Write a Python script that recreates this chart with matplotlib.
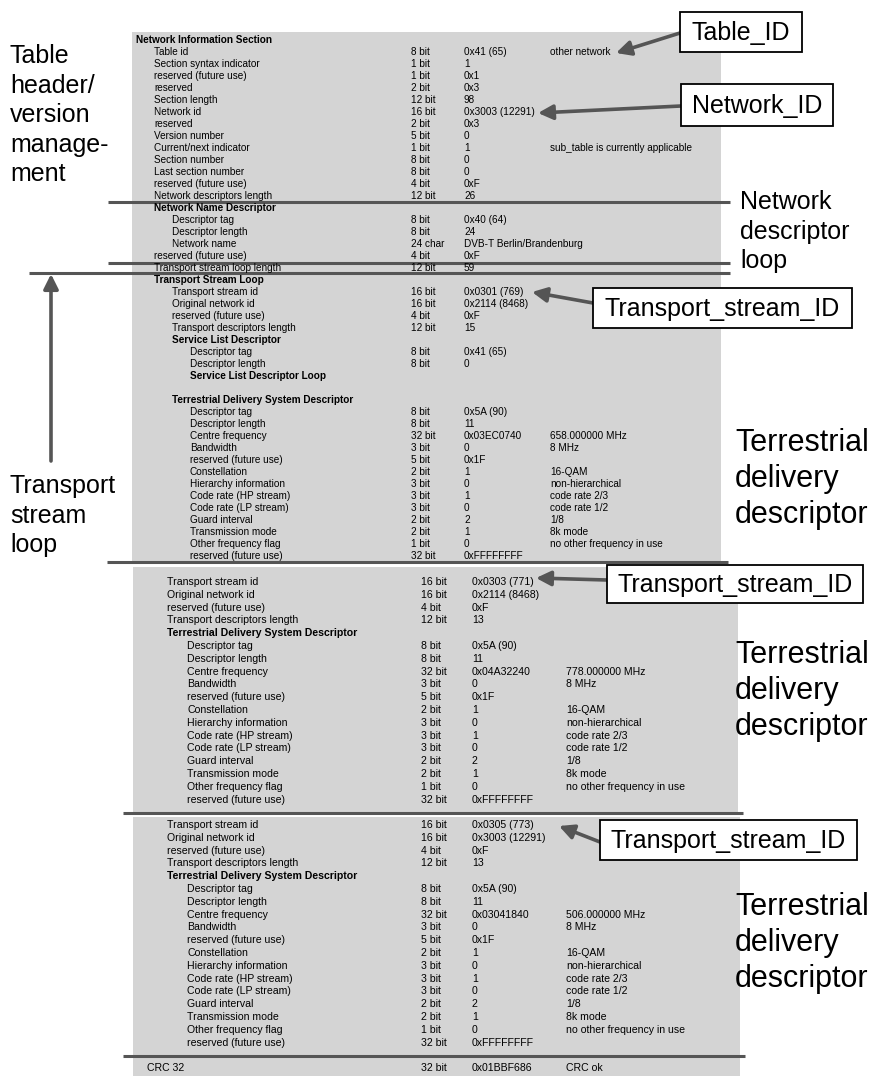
import matplotlib
matplotlib.use("Agg")
import matplotlib.pyplot as plt
from matplotlib import font_manager
from matplotlib.patches import Rectangle

# --- table contents -------------------------------------------------------
nit_labels = [
    "Network Information Section", "Table id", "Section syntax indicator",
    "reserved (future use)", "reserved", "Section length", "Network id",
    "reserved", "Version number", "Current/next indicator", "Section number",
    "Last section number", "reserved (future use)", "Network descriptors length",
    "Network Name Descriptor", "Descriptor tag", "Descriptor length",
    "Network name", "reserved (future use)", "Transport stream loop length",
    "Transport Stream Loop", "Transport stream id", "Original network id",
    "reserved (future use)", "Transport descriptors length",
    "Service List Descriptor", "Descriptor tag", "Descriptor length",
    "Service List Descriptor Loop", "",
    "Terrestrial Delivery System Descriptor", "Descriptor tag",
    "Descriptor length", "Centre frequency", "Bandwidth",
    "reserved (future use)", "Constellation", "Hierarchy information",
    "Code rate (HP stream)", "Code rate (LP stream)", "Guard interval",
    "Transmission mode", "Other frequency flag", "reserved (future use)",
]
nit_bits = [
    "", "8 bit", "1 bit", "1 bit", "2 bit", "12 bit", "16 bit", "2 bit",
    "5 bit", "1 bit", "8 bit", "8 bit", "4 bit", "12 bit",
    "", "8 bit", "8 bit", "24 char", "4 bit", "12 bit",
    "", "16 bit", "16 bit", "4 bit", "12 bit",
    "", "8 bit", "8 bit", "", "",
    "", "8 bit", "8 bit", "32 bit", "3 bit", "5 bit", "2 bit", "3 bit",
    "3 bit", "3 bit", "2 bit", "2 bit", "1 bit", "32 bit",
]
nit_values = [
    "", "0x41 (65)", "1", "0x1", "0x3", "98", "0x3003 (12291)", "0x3",
    "0", "1", "0", "0", "0xF", "26",
    "", "0x40 (64)", "24", "DVB-T Berlin/Brandenburg", "0xF", "59",
    "", "0x0301 (769)", "0x2114 (8468)", "0xF", "15",
    "", "0x41 (65)", "0", "", "",
    "", "0x5A (90)", "11", "0x03EC0740", "0", "0x1F", "1", "0",
    "1", "0", "2", "1", "0", "0xFFFFFFFF",
]
nit_notes = [
    "", "other network", "", "", "", "", "", "", "",
    "sub_table is currently applicable", "", "", "", "",
    "", "", "", "", "", "",
    "", "", "", "", "",
    "", "", "", "", "",
    "", "", "", "658.000000 MHz", "8 MHz", "", "16-QAM", "non-hierarchical",
    "code rate 2/3", "code rate 1/2", "1/8", "8k mode",
    "no other frequency in use", "",
]
nit_levels = [0, 1, 1, 1, 1, 1, 1, 1, 1, 1, 1, 1, 1, 1,
              1, 2, 2, 2, 1, 1,
              1, 2, 2, 2, 2,
              2, 3, 3, 3, 3,
              2, 3, 3, 3, 3, 3, 3, 3, 3, 3, 3, 3, 3, 3]

ts_labels = [
    "Transport stream id", "Original network id", "reserved (future use)",
    "Transport descriptors length", "Terrestrial Delivery System Descriptor",
    "Descriptor tag", "Descriptor length", "Centre frequency", "Bandwidth",
    "reserved (future use)", "Constellation", "Hierarchy information",
    "Code rate (HP stream)", "Code rate (LP stream)", "Guard interval",
    "Transmission mode", "Other frequency flag", "reserved (future use)",
]
ts_bits = ["16 bit", "16 bit", "4 bit", "12 bit", "", "8 bit", "8 bit",
           "32 bit", "3 bit", "5 bit", "2 bit", "3 bit", "3 bit", "3 bit",
           "2 bit", "2 bit", "1 bit", "32 bit"]
ts_levels = [0, 0, 0, 0, 0] + [1] * 13
ts_notes_common = ["8 MHz", "", "16-QAM", "non-hierarchical", "code rate 2/3",
                   "code rate 1/2", "1/8", "8k mode", "no other frequency in use", ""]

ts2_values = ["0x0303 (771)", "0x2114 (8468)", "0xF", "13", "", "0x5A (90)",
              "11", "0x04A32240", "0", "0x1F", "1", "0", "1", "0", "2", "1",
              "0", "0xFFFFFFFF"]
ts2_notes = ["", "", "", "", "", "", "", "778.000000 MHz"] + ts_notes_common
ts3_values = ["0x0305 (773)", "0x3003 (12291)", "0xF", "13", "", "0x5A (90)",
              "11", "0x03041840", "0", "0x1F", "1", "0", "1", "0", "2", "1",
              "0", "0xFFFFFFFF"]
ts3_notes = ["", "", "", "", "", "", "", "506.000000 MHz"] + ts_notes_common

crc_row = ["CRC 32", "32 bit", "0x01BBF686", "CRC ok"]

# --- fonts ----------------------------------------------------------------
names = {f.name for f in font_manager.fontManager.ttflist}
if "Liberation Sans Narrow" in names:
    screen_font, fs1, fs2 = "Liberation Sans Narrow", 8.6, 9.1
else:
    screen_font, fs1, fs2 = "Liberation Sans", 7.2, 7.6
big_font = "Liberation Sans"

GRAY = "#d4d4d4"
LINE = "#555555"

fig = plt.figure(figsize=(8.77, 10.76), dpi=100)
ax = fig.add_axes([0, 0, 1, 1])
ax.set_xlim(0, 877)
ax.set_ylim(1076, 0)
ax.axis("off")

# gray screenshot panels
ax.add_patch(Rectangle((132, 32), 589, 530, color=GRAY, lw=0))
ax.add_patch(Rectangle((133, 567), 605, 246, color=GRAY, lw=0))
ax.add_patch(Rectangle((133, 817), 607, 259, color=GRAY, lw=0))


def draw_rows(labels, bits, values, notes, levels, y0, dy, x0, indent,
              xbit, xval, xnote, fs):
    for i, lab in enumerate(labels):
        y = y0 + dy * i
        bold = bits[i] == ""
        ax.text(x0 + indent * levels[i], y, lab, fontsize=fs, family=screen_font,
                weight="bold" if bold else "normal", va="center", ha="left")
        ax.text(xbit, y, bits[i], fontsize=fs, family=screen_font, va="center")
        ax.text(xval, y, values[i], fontsize=fs, family=screen_font, va="center")
        ax.text(xnote, y, notes[i], fontsize=fs, family=screen_font, va="center")


draw_rows(nit_labels, nit_bits, nit_values, nit_notes, nit_levels,
          40, 12, 136, 18, 411, 464, 550, fs1)
draw_rows(ts_labels, ts_bits, ts2_values, ts2_notes, ts_levels,
          582, 12.8, 167, 20, 421, 472, 566, fs2)
draw_rows(ts_labels, ts_bits, ts3_values, ts3_notes, ts_levels,
          825, 12.8, 167, 20, 421, 472, 566, fs2)
for txt, x in zip(crc_row, [147, 421, 472, 566]):
    ax.text(x, 1068, txt, fontsize=fs2, family=screen_font, va="center")

# separator lines
for y, x1, x2 in [(201.5, 108, 730), (262.5, 108, 730), (273, 29, 730),
                  (562, 107, 728), (813, 123, 743), (1056, 123, 745)]:
    ax.plot([x1, x2], [y, y], color=LINE, lw=2.2, solid_capstyle="butt")

# side labels
ax.text(10, 44, "Table\nheader/\nversion\nmanage-\nment", fontsize=18,
        family=big_font, va="top", ha="left", linespacing=1.29)
ax.text(740, 190, "Network\ndescriptor\nloop", fontsize=18, family=big_font,
        va="top", ha="left", linespacing=1.29)
ax.text(10, 474, "Transport\nstream\nloop", fontsize=18, family=big_font,
        va="top", ha="left", linespacing=1.29)
for y in [428, 640, 892]:
    ax.text(735, y, "Terrestrial\ndelivery\ndescriptor", fontsize=22,
            family=big_font, va="top", ha="left", linespacing=1.25)

# boxed callouts with arrows
arrow = dict(arrowstyle="-|>", color=LINE, lw=2.6, mutation_scale=22,
             shrinkA=0, shrinkB=0)
callouts = [
    ("Table_ID", (680, 12, 122, 40), (680, 33), (616, 53)),
    ("Network_ID", (681, 84, 152, 42), (681, 106), (538, 113)),
    ("Transport_stream_ID", (593, 288, 259, 40), (593, 303), (532, 292)),
    ("Transport_stream_ID", (607, 565, 256, 38), (607, 580), (536, 578)),
    ("Transport_stream_ID", (600, 820, 257, 40), (600, 842), (559, 826)),
]
for txt, (bx, by, bw, bh), tail, tip in callouts:
    ax.annotate("", xy=tip, xytext=tail, arrowprops=arrow)
    ax.add_patch(Rectangle((bx, by), bw, bh, facecolor="white",
                           edgecolor="black", lw=1.3, zorder=3))
    ax.text(bx + bw / 2, by + bh / 2 + 1, txt, fontsize=18, family=big_font,
            ha="center", va="center", zorder=4)

# upward arrow for the transport stream loop
ax.annotate("", xy=(51, 274), xytext=(51, 461), arrowprops=arrow)

fig.savefig("out.png", dpi=100, facecolor="white")
